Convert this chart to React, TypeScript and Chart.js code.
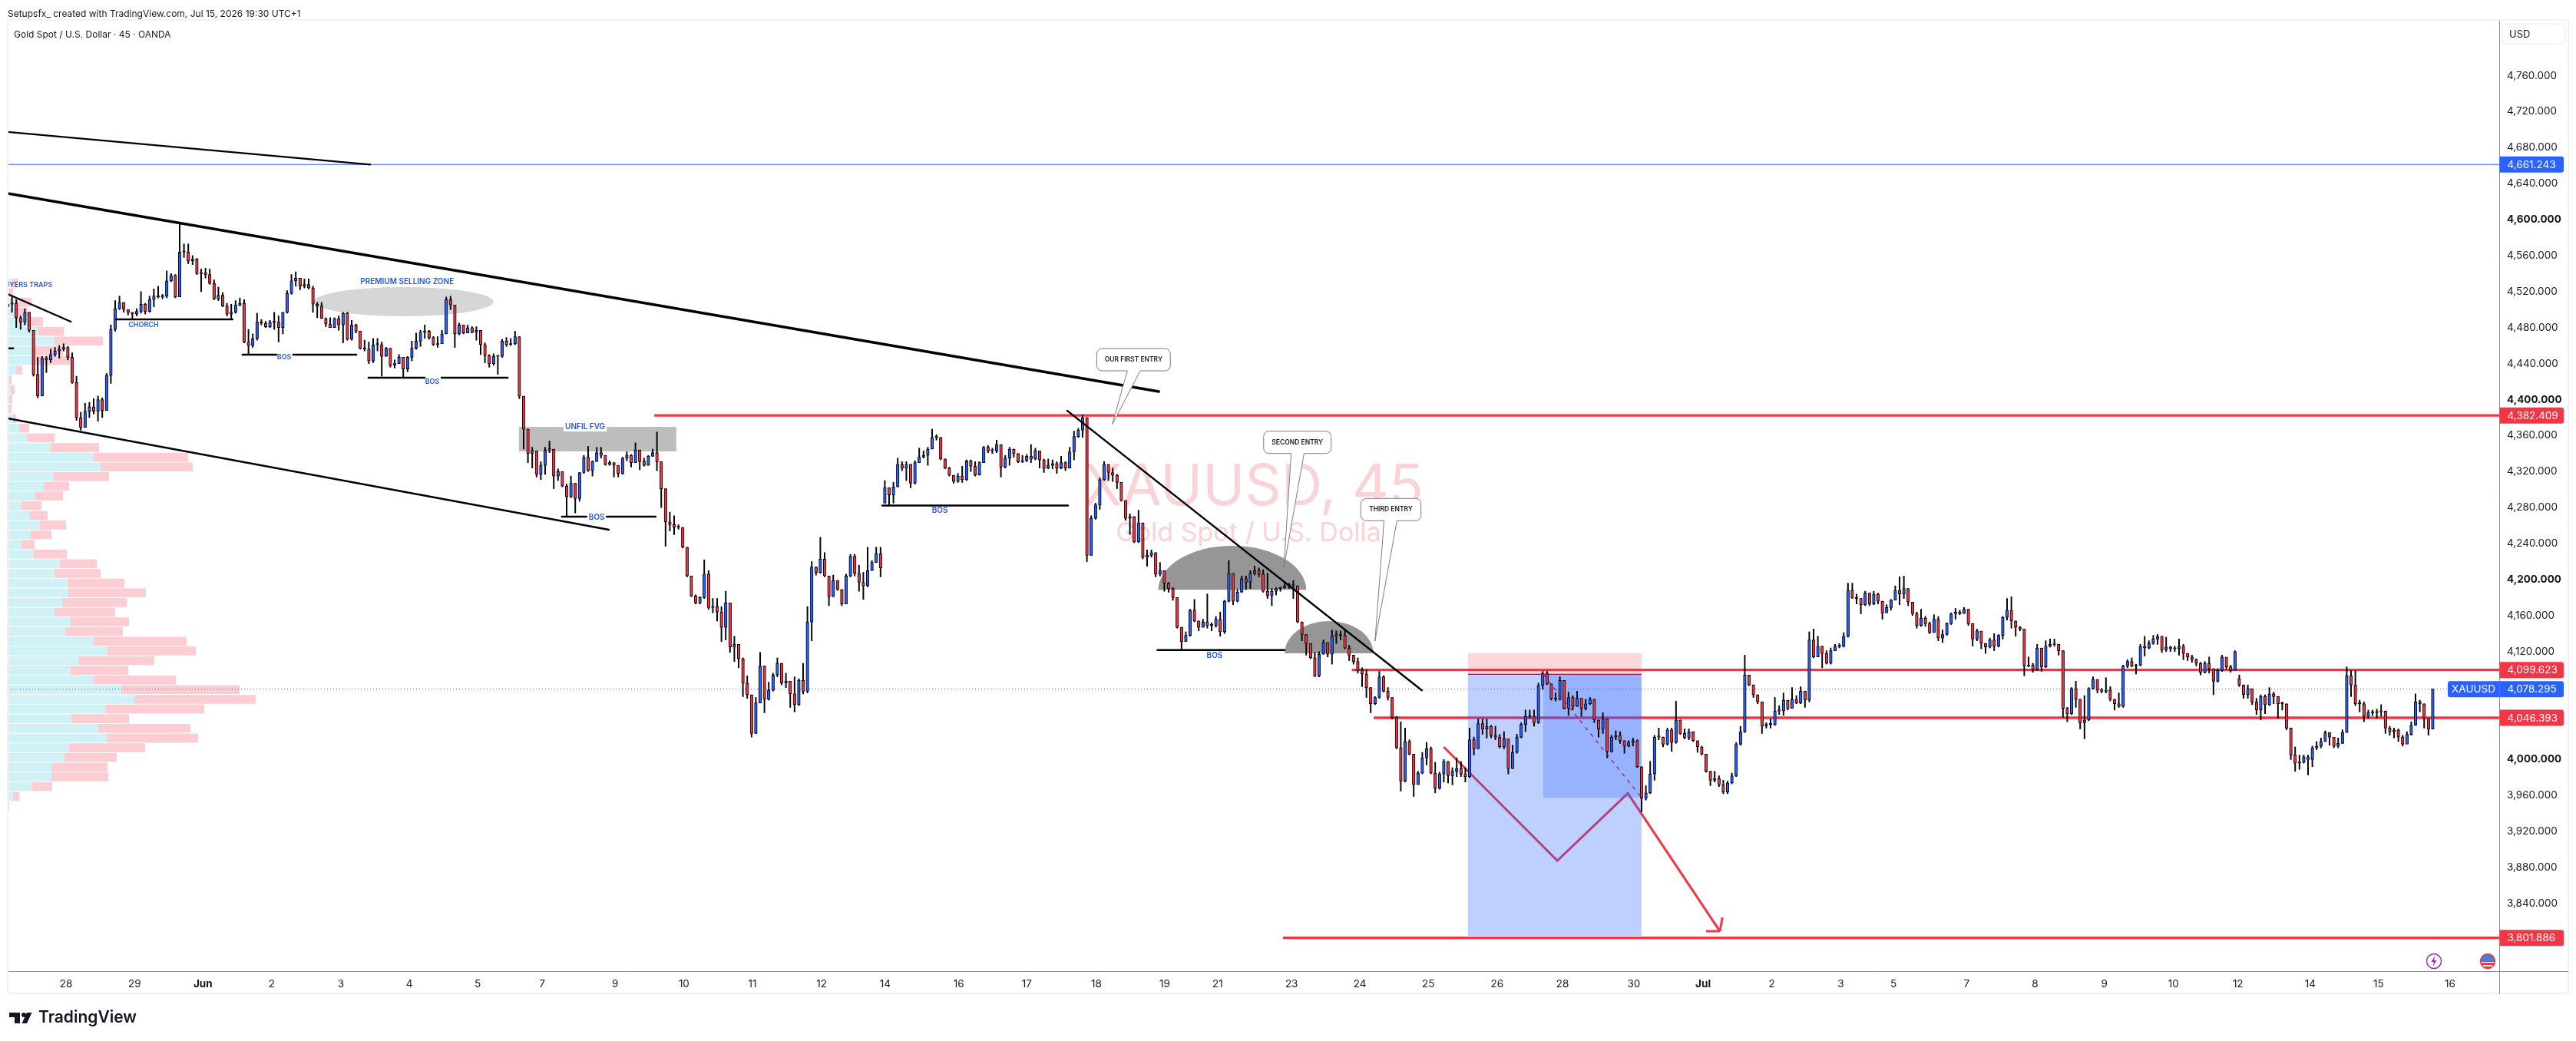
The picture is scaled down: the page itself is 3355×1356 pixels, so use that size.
// App.tsx - XAUUSD 45m chart with trade drawings
import React, { useEffect, useRef } from 'react';
import { Chart, registerables } from 'chart.js';

Chart.register(...registerables);

const FONT = 'Inter, "Noto Sans", sans-serif';
const RED = '#f23645';
const BLUE = '#2962ff';
const LABEL_BLUE = '#2259dc';

// one candle = two 45m bars
const closes = [
  4506,4507,4491,4486,4497,4477,4428,4404,4446,4444,4450,4454,4456,4458,4447,4419,4380,4369,4387,4392,
  4387,4400,4388,4427,4478,4501,4508,4500,4497,4495,4498,4506,4498,4511,4515,4514,4515,4532,4538,4514,
  4564,4564,4554,4556,4540,4541,4539,4529,4512,4516,4504,4495,4497,4505,4507,4464,4460,4468,4486,4485,
  4481,4486,4486,4480,4497,4518,4532,4535,4526,4528,4524,4506,4504,4490,4484,4480,4490,4483,4496,4467,
  4483,4476,4457,4456,4443,4461,4461,4448,4457,4438,4440,4447,4434,4447,4457,4465,4475,4476,4469,4461,
  4462,4473,4511,4505,4473,4483,4474,4480,4475,4477,4461,4449,4440,4448,4448,4465,4461,4462,4470,4404,
  4367,4340,4343,4317,4327,4344,4345,4315,4320,4304,4292,4307,4290,4319,4336,4321,4331,4341,4338,4328,
  4330,4327,4318,4335,4338,4330,4344,4331,4327,4337,4341,4331,4301,4264,4261,4258,4258,4236,4204,4182,
  4174,4180,4206,4169,4170,4164,4147,4174,4125,4128,4112,4085,4072,4029,4063,4104,4067,4077,4094,4107,
  4085,4087,4073,4061,4088,4076,4153,4214,4208,4223,4204,4181,4199,4189,4173,4204,4226,4207,4197,4193,
  4210,4219,4229,4213,4302,4294,4303,4328,4324,4328,4307,4330,4336,4338,4345,4358,4358,4334,4324,4316,
  4309,4315,4311,4332,4326,4316,4330,4347,4343,4343,4350,4325,4335,4345,4340,4331,4332,4337,4334,4343,
  4333,4324,4327,4329,4324,4330,4324,4342,4359,4366,4380,4227,4268,4283,4311,4328,4319,4316,4308,4288,
  4268,4270,4242,4263,4225,4227,4230,4206,4210,4196,4190,4180,4147,4131,4138,4166,4154,4147,4153,4149,
  4149,4156,4142,4176,4207,4176,4186,4201,4197,4207,4210,4206,4187,4182,4187,4190,4191,4193,4193,4193,
  4153,4139,4129,4113,4093,4117,4130,4117,4137,4139,4138,4124,4116,4109,4099,4095,4080,4062,4069,4092,
  4076,4069,4047,4013,3976,4020,4006,3972,3985,4002,4012,3985,3968,3984,3998,3982,3987,3990,3984,3981,
  4022,4012,4040,4034,4037,4027,4025,4014,4023,3990,4008,4025,4039,4048,4048,4041,4082,4096,4084,4068,
  4067,4088,4057,4069,4059,4068,4057,4062,4067,4044,4034,4045,4009,4025,4027,4021,4015,4019,4021,3992,
  3957,3963,3984,4025,4025,4017,4033,4019,4044,4029,4024,4031,4021,4014,4006,3987,3977,3979,3972,3964,
  3974,3982,4017,4031,4094,4083,4072,4064,4037,4039,4039,4054,4054,4066,4057,4067,4063,4076,4066,4133,
  4114,4126,4118,4107,4121,4126,4126,4137,4188,4180,4179,4172,4185,4173,4184,4176,4163,4169,4177,4188,
  4184,4190,4175,4162,4149,4157,4151,4141,4156,4135,4139,4151,4162,4164,4162,4167,4151,4134,4143,4129,
  4125,4133,4126,4138,4158,4166,4154,4147,4145,4104,4105,4100,4124,4103,4126,4128,4128,4121,4057,4051,
  4079,4067,4041,4044,4079,4089,4077,4076,4077,4067,4062,4059,4104,4109,4104,4105,4126,4124,4129,4134,
  4137,4122,4125,4123,4123,4126,4118,4114,4111,4107,4097,4107,4101,4087,4099,4114,4103,4099,4120,4083,
  4072,4079,4064,4055,4070,4061,4073,4070,4062,4062,4035,4005,3996,3997,4003,4000,4013,4015,4020,4030,
  4025,4015,4018,4030,4093,4083,4062,4062,4048,4052,4052,4053,4054,4035,4031,4033,4025,4017,4028,4038,
  4064,4062,4046,4034,4078.295,
];
const highs = [
  4511,4515,4511,4493,4501,4497,4466,4447,4448,4448,4456,4458,4460,4462,4459,4452,4426,4386,4396,4397,
  4401,4404,4402,4429,4483,4510,4515,4503,4500,4497,4501,4520,4507,4515,4523,4526,4517,4543,4540,4539,
  4595,4573,4573,4560,4557,4545,4546,4545,4533,4525,4519,4507,4506,4510,4513,4511,4478,4473,4496,4489,
  4487,4488,4497,4493,4497,4521,4539,4542,4535,4534,4534,4526,4508,4508,4491,4491,4491,4493,4497,4497,
  4488,4484,4473,4466,4464,4468,4468,4464,4458,4457,4444,4450,4447,4448,4465,4474,4477,4483,4477,4470,
  4470,4477,4514,4515,4505,4485,4480,4483,4481,4481,4471,4463,4450,4451,4449,4467,4469,4468,4476,4470,
  4372,4367,4347,4343,4331,4347,4354,4345,4323,4320,4306,4315,4307,4319,4338,4348,4332,4347,4347,4338,
  4332,4330,4327,4336,4342,4339,4352,4344,4335,4338,4345,4364,4331,4301,4275,4271,4261,4258,4236,4204,
  4183,4181,4222,4210,4179,4179,4170,4187,4174,4137,4128,4113,4093,4072,4069,4119,4104,4086,4096,4113,
  4107,4096,4087,4092,4090,4107,4170,4220,4214,4247,4230,4204,4205,4199,4189,4206,4228,4228,4216,4208,
  4236,4221,4236,4236,4310,4302,4308,4335,4331,4331,4328,4332,4346,4343,4347,4367,4361,4358,4334,4325,
  4316,4318,4326,4333,4333,4331,4331,4348,4349,4346,4355,4350,4338,4347,4345,4340,4338,4339,4350,4346,
  4343,4334,4334,4333,4331,4337,4331,4347,4365,4368,4383,4380,4271,4285,4313,4331,4328,4324,4317,4308,
  4288,4273,4270,4277,4263,4233,4233,4230,4219,4209,4197,4191,4180,4147,4142,4167,4178,4154,4156,4184,
  4152,4159,4164,4177,4221,4207,4189,4204,4204,4210,4215,4213,4211,4207,4190,4191,4192,4196,4196,4199,
  4193,4153,4139,4129,4119,4120,4133,4130,4144,4143,4143,4144,4127,4116,4113,4102,4100,4080,4070,4098,
  4093,4080,4069,4048,4042,4035,4022,4006,3987,4008,4019,4014,3997,3986,4000,3998,3991,4002,3998,3991,
  4035,4025,4045,4045,4045,4038,4037,4028,4031,4016,4016,4028,4041,4055,4055,4055,4085,4098,4098,4084,
  4074,4092,4088,4075,4071,4076,4068,4067,4069,4067,4044,4052,4045,4027,4032,4031,4021,4021,4024,4022,
  3992,3971,3998,4027,4035,4025,4035,4035,4065,4044,4034,4034,4031,4021,4015,4006,3987,3987,3982,3977,
  3976,3985,4019,4037,4116,4094,4083,4072,4059,4041,4045,4069,4060,4074,4066,4080,4071,4081,4074,4142,
  4145,4137,4126,4121,4124,4128,4129,4141,4196,4196,4184,4179,4187,4185,4187,4185,4176,4172,4178,4193,
  4203,4204,4190,4175,4164,4167,4159,4153,4161,4159,4144,4152,4163,4168,4166,4169,4167,4151,4145,4138,
  4129,4135,4140,4139,4159,4179,4181,4154,4148,4145,4114,4107,4128,4124,4132,4134,4134,4128,4121,4058,
  4080,4087,4067,4071,4080,4092,4089,4079,4091,4081,4067,4074,4105,4111,4113,4106,4128,4137,4132,4138,
  4139,4137,4136,4126,4126,4134,4128,4118,4116,4112,4108,4109,4114,4101,4101,4116,4107,4105,4121,4094,
  4083,4083,4077,4068,4072,4072,4080,4075,4070,4064,4062,4035,4014,4005,4005,4005,4015,4020,4024,4032,
  4030,4024,4024,4033,4103,4099,4099,4066,4064,4055,4055,4056,4061,4054,4037,4035,4034,4027,4031,4042,
  4073,4066,4062,4046,4078.295,
];
const lows = [
  4498,4497,4480,4478,4483,4475,4426,4402,4404,4430,4441,4448,4446,4454,4444,4418,4377,4366,4374,4380,
  4384,4376,4380,4402,4418,4476,4500,4497,4494,4490,4493,4496,4495,4497,4503,4513,4512,4513,4531,4513,
  4527,4558,4551,4550,4539,4520,4535,4528,4511,4510,4503,4493,4490,4496,4504,4463,4450,4458,4466,4483,
  4480,4480,4478,4464,4473,4496,4517,4526,4522,4524,4523,4497,4491,4490,4481,4480,4480,4477,4463,4466,
  4466,4474,4456,4454,4440,4441,4454,4426,4448,4436,4435,4440,4424,4431,4443,4456,4459,4468,4467,4460,
  4458,4467,4473,4500,4458,4472,4473,4474,4474,4466,4450,4441,4436,4438,4428,4447,4459,4460,4461,4401,
  4345,4330,4324,4314,4311,4317,4341,4301,4310,4303,4271,4291,4274,4287,4318,4320,4315,4335,4335,4327,
  4327,4314,4314,4317,4332,4325,4330,4322,4326,4327,4337,4321,4280,4237,4254,4250,4256,4235,4203,4181,
  4173,4173,4179,4167,4163,4154,4131,4133,4119,4109,4102,4070,4068,4025,4029,4063,4052,4066,4076,4092,
  4083,4080,4058,4053,4060,4073,4074,4132,4205,4207,4203,4171,4181,4188,4171,4173,4203,4204,4187,4178,
  4192,4210,4219,4203,4285,4282,4285,4303,4321,4310,4302,4306,4330,4335,4327,4345,4355,4333,4323,4315,
  4307,4308,4308,4310,4320,4315,4316,4330,4341,4340,4341,4314,4324,4327,4336,4330,4330,4331,4330,4333,
  4324,4319,4323,4323,4318,4323,4321,4324,4333,4358,4358,4220,4227,4267,4278,4310,4310,4309,4301,4287,
  4266,4250,4241,4241,4223,4215,4225,4203,4204,4187,4186,4177,4146,4122,4136,4137,4153,4143,4147,4146,
  4143,4147,4137,4140,4175,4172,4175,4186,4189,4190,4205,4203,4186,4179,4171,4183,4187,4190,4190,4179,
  4152,4132,4116,4112,4092,4092,4117,4114,4106,4129,4133,4123,4110,4106,4096,4081,4069,4052,4061,4068,
  4075,4066,4045,4012,3965,3975,4005,3959,3975,3984,3994,3984,3963,3967,3975,3974,3972,3981,3981,3975,
  3980,4005,4012,4028,4024,4024,4022,4013,4012,3984,3990,4007,4024,4031,4046,4037,4040,4078,4083,4066,
  4065,4066,4056,4049,4055,4059,4048,4055,4061,4041,4025,4029,4002,4008,4022,4018,4007,4014,4015,3991,
  3942,3955,3962,3977,4022,4014,4016,4009,4018,4028,4023,4022,4020,4008,4005,3986,3971,3975,3970,3962,
  3962,3973,3981,4016,4030,4082,4069,4062,4029,4035,4035,4038,4050,4049,4055,4064,4062,4062,4058,4064,
  4113,4115,4102,4106,4106,4121,4124,4125,4136,4179,4173,4162,4171,4171,4172,4173,4156,4164,4166,4179,
  4172,4179,4171,4160,4146,4148,4148,4140,4149,4132,4130,4138,4150,4156,4161,4165,4149,4126,4132,4123,
  4118,4124,4121,4125,4134,4155,4146,4137,4143,4093,4103,4097,4099,4098,4102,4125,4126,4116,4047,4042,
  4050,4058,4034,4023,4043,4078,4074,4074,4074,4065,4055,4058,4058,4102,4103,4095,4104,4115,4123,4128,
  4128,4119,4120,4120,4120,4116,4111,4110,4108,4104,4094,4096,4096,4072,4086,4098,4101,4097,4101,4081,
  4068,4068,4061,4050,4044,4051,4060,4062,4046,4055,4033,4000,3987,3989,3996,3983,3992,4011,4013,4020,
  4016,4013,4013,4018,4030,4070,4060,4053,4042,4046,4049,4046,4048,4029,4027,4024,4020,4015,4025,4027,
  4038,4053,4035,4027,4034,
];
// candles that open away from the previous close (weekend gaps)
const gapOpens: Record<number, number> = { 0: 4503, 204: 4285, 519: 4090 };

// price axis
const priceTicks = [3840,3880,3920,3960,4000,4120,4160,4200,4240,4280,4320,4360,4400,4440,4480,4520,4560,4600,4640,4680,4720,4760];
const boldPrices = [4000, 4200, 4400, 4600];
// time axis, position in candles
const timeTicks = [13.6,29.5,45.4,61.4,77.5,93.4,109.3,124.3,141.3,157.3,173.2,189.3,204.1,221.2,237,253.2,269.1,281.4,298.6,314.5,330.4,346.4,361.6,378.2,394.3,410.3,426.3,438.6,455.6,471.5,487.6,503.7,518.7,535.5,551.4,568];
const timeLabels = ['28','29','Jun','2','3','4','5','7','9','10','11','12','14','16','17','18','19','21','23','24','25','26','28','30','Jul','2','3','5','7','8','9','10','12','14','15','16'];

// volume profile, top row to bottom row
const profileUp = [6,2,12,12,29,40,61,35,33,11,2,4,2,1,7,15,26,56,112,121,60,47,36,18,29,42,30,18,34,68,61,78,79,71,61,82,75,112,130,93,82,112,148,165,128,83,118,129,80,74,57,57,32,7,0.5];
const profileDown = [7,5,19,14,17,33,63,37,48,8,3,5,4,4,4,13,35,63,123,120,72,33,36,26,23,34,27,17,43,48,60,74,101,84,79,76,75,121,115,98,75,107,154,158,128,75,120,119,99,68,73,74,26,8,1.5];
const profileTop = 4529.6;
const profileStep = 10.76;

// drawings: [candle, price, candle, price]
const thinLines = [
  [0,4697.4,84.3,4661.2],[0,4517.3,14.7,4486.6],[0,4379.1,139.8,4255.4],[0.2,4457,1.3,4457],
  [25.2,4489.2,52.3,4489.2],[54.6,4449.9,62.5,4449.9],[66.4,4449.9,81.1,4449.9],
  [83.9,4424.3,97,4424.3],[100.9,4424.3,116.3,4424.3],[128.9,4269.9,134.6,4269.9],[139.3,4269.9,150.7,4269.9],
  [203.4,4282.3,246.6,4282.3],[267.4,4121.7,297,4121.7],[246.4,4387.7,328.9,4076.9],
];
const channelTop = [0,4629.1,267.7,4409];
const levelPrices = [4382.409, 4099.623, 4046.393, 3801.886];
const levelStarts = [150.4, 312.6, 317.7, 296.6];
const blueLevel = 4661.243;
const lastPrice = 4078.295;
const arrowPath = [[334,4014],[360.4,3887.7],[376.8,3962.5],[398.2,3809.3]];
const arrowBarbs = [[395,3809.3],[398.8,3824.6]];
const texts: [string, number, number, number][] = [
  ['BUYERS TRAPS',10.4,4527.6,9],['CHORCH',31.6,4483.2,9],['BOS',64.3,4447.4,9],['BOS',98.75,4420.1,9],
  ['PREMIUM SELLING ZONE',92.9,4531,10],['UNFIL FVG',134.3,4369.7,10],['BOS',137,4269.1,10],
  ['BOS',216.8,4276.7,10],['BOS',280.7,4115.5,10],
];
// label, left, right, top price, bottom price, tip candle, tip price, base left, base right
const callouts: [string, number, number, number, number, number, number, number, number][] = [
  ['OUR FIRST ENTRY',253.3,270.4,4456.7,4432,256.9,4372.5,260.4,263.4],
  ['SECOND ENTRY',292.1,307.8,4364.9,4340.1,296.8,4213.6,298.5,301.5],
  ['THIRD ENTRY',314.7,328.7,4290.1,4265.4,318,4131.7,320.1,323.1],
];
// center candle, center price, radius in candles, radius in price
const domes = [[284.8,4188.6,17.2,48.9],[307.3,4118.1,10.3,35.8]];
const premiumZone = [92.1,4508.8,20.9,16.2];
const fvgBox = [118.9,155.5,4369.7,4342.4];
const position = { left: 339.6, right: 380, split: 357.1, stop: 4118.1, entry: 4094.8, target: 3804.1, reached: 3957.7 };
const axisPills: [string, number, string][] = [
  ['4,661.243', blueLevel, BLUE], ['4,382.409', 4382.409, RED], ['4,099.623', 4099.623, RED],
  ['4,078.295', lastPrice, BLUE], ['4,046.393', 4046.393, RED], ['3,801.886', 3801.886, RED],
];

const drawings = {
  id: 'drawings',
  beforeDatasetsDraw(chart: any) {
    const { ctx, chartArea: a, scales } = chart;
    const px = (v: number) => scales.x.getPixelForValue(v);
    const py = (v: number) => scales.y.getPixelForValue(v);
    ctx.save();
    ctx.beginPath();
    ctx.rect(a.left, a.top, a.right - a.left, a.bottom - a.top);
    ctx.clip();

    // watermark
    ctx.fillStyle = '#fbd3d7';
    ctx.textAlign = 'center';
    ctx.textBaseline = 'middle';
    ctx.font = `74px ${FONT}`;
    ctx.fillText('XAUUSD, 45', (a.left + a.right) / 2, 636);
    ctx.font = `34px ${FONT}`;
    ctx.fillText('Gold Spot / U.S. Dollar', (a.left + a.right) / 2, 695);

    // volume profile
    const rowH = Math.abs(py(0) - py(profileStep)) - 1;
    profileUp.forEach((up, i) => {
      const yc = py(profileTop - i * profileStep);
      const x1 = px(up / 5.6);
      const x2 = px((up + profileDown[i]) / 5.6);
      ctx.fillStyle = '#d0f2f7';
      ctx.fillRect(a.left, yc - rowH / 2, x1 - a.left, rowH);
      ctx.fillStyle = '#fccdd2';
      ctx.fillRect(x1, yc - rowH / 2, x2 - x1, rowH);
    });

    // zones
    ctx.fillStyle = '#d6d6d6';
    ctx.beginPath();
    ctx.ellipse(px(premiumZone[0]), py(premiumZone[1]), px(premiumZone[2]) - px(0), py(0) - py(premiumZone[3]), 0, 0, Math.PI * 2);
    ctx.fill();
    ctx.fillStyle = '#bdbdbd';
    ctx.fillRect(px(fvgBox[0]), py(fvgBox[2]), px(fvgBox[1]) - px(fvgBox[0]), py(fvgBox[3]) - py(fvgBox[2]));
    ctx.fillStyle = '#969696';
    domes.forEach(([cx, cy, rx, ry]) => {
      ctx.beginPath();
      ctx.ellipse(px(cx), py(cy), px(rx) - px(0), py(0) - py(ry), 0, Math.PI, Math.PI * 2);
      ctx.closePath();
      ctx.fill();
    });

    // price levels
    ctx.strokeStyle = BLUE;
    ctx.lineWidth = 1.2;
    ctx.beginPath();
    ctx.moveTo(a.left, py(blueLevel));
    ctx.lineTo(a.right, py(blueLevel));
    ctx.stroke();
    ctx.lineWidth = 1;
    ctx.setLineDash([1, 3]);
    ctx.beginPath();
    ctx.moveTo(a.left, py(lastPrice));
    ctx.lineTo(a.right, py(lastPrice));
    ctx.stroke();
    ctx.setLineDash([]);
    ctx.strokeStyle = RED;
    ctx.lineWidth = 3.4;
    levelPrices.forEach((p, i) => {
      ctx.beginPath();
      ctx.moveTo(px(levelStarts[i]), py(p));
      ctx.lineTo(a.right, py(p));
      ctx.stroke();
    });
    ctx.lineWidth = 3;
    ctx.beginPath();
    arrowPath.forEach(([b, p], i) => (i ? ctx.lineTo(px(b), py(p)) : ctx.moveTo(px(b), py(p))));
    ctx.stroke();
    const tip = arrowPath[arrowPath.length - 1];
    arrowBarbs.forEach(([b, p]) => {
      ctx.beginPath();
      ctx.moveTo(px(tip[0]), py(tip[1]));
      ctx.lineTo(px(b), py(p));
      ctx.stroke();
    });

    // short position tool
    const { left, right, split, stop, entry, target, reached } = position;
    ctx.fillStyle = 'rgba(242, 54, 69, 0.2)';
    ctx.fillRect(px(left), py(stop), px(right) - px(left), py(entry) - py(stop));
    ctx.fillStyle = 'rgba(41, 98, 255, 0.3)';
    ctx.fillRect(px(left), py(entry), px(right) - px(left), py(target) - py(entry));
    ctx.fillStyle = 'rgba(41, 98, 255, 0.26)';
    ctx.fillRect(px(split), py(entry), px(right) - px(split), py(reached) - py(entry));
    ctx.restore();
  },
  afterDatasetsDraw(chart: any) {
    const { ctx, chartArea: a, scales } = chart;
    const px = (v: number) => scales.x.getPixelForValue(v);
    const py = (v: number) => scales.y.getPixelForValue(v);
    ctx.save();
    ctx.beginPath();
    ctx.rect(a.left, a.top, a.right - a.left, a.bottom - a.top);
    ctx.clip();

    const { left, right, split, entry, reached } = position;
    ctx.strokeStyle = '#8c1a55';
    ctx.lineWidth = 1.2;
    ctx.beginPath();
    ctx.moveTo(px(left), py(entry));
    ctx.lineTo(px(right), py(entry));
    ctx.stroke();
    ctx.setLineDash([5, 6]);
    ctx.beginPath();
    ctx.moveTo(px(split), py(entry));
    ctx.lineTo(px(right), py(reached));
    ctx.stroke();
    ctx.setLineDash([]);

    // black trend lines
    ctx.strokeStyle = '#000';
    ctx.lineCap = 'round';
    ctx.lineWidth = 2.4;
    thinLines.forEach(([b1, p1, b2, p2]) => {
      ctx.beginPath();
      ctx.moveTo(px(b1), py(p1));
      ctx.lineTo(px(b2), py(p2));
      ctx.stroke();
    });
    ctx.lineWidth = 3.6;
    ctx.beginPath();
    ctx.moveTo(px(channelTop[0]), py(channelTop[1]));
    ctx.lineTo(px(channelTop[2]), py(channelTop[3]));
    ctx.stroke();

    // callouts
    callouts.forEach(([label, l, r, t, b, tx, ty, b1, b2]) => {
      const x1 = px(l), x2 = px(r), y1 = py(t), y2 = py(b), rad = 7;
      ctx.beginPath();
      ctx.moveTo(x1 + rad, y1);
      ctx.arcTo(x2, y1, x2, y2, rad);
      ctx.arcTo(x2, y2, x1, y2, rad);
      ctx.lineTo(px(b2), y2);
      ctx.lineTo(px(tx), py(ty));
      ctx.lineTo(px(b1), y2);
      ctx.arcTo(x1, y2, x1, y1, rad);
      ctx.arcTo(x1, y1, x2, y1, rad);
      ctx.closePath();
      ctx.fillStyle = '#fff';
      ctx.fill();
      ctx.strokeStyle = '#7d7d7d';
      ctx.lineWidth = 1;
      ctx.lineCap = 'butt';
      ctx.stroke();
      ctx.fillStyle = '#1a1a1a';
      ctx.font = `600 8.5px ${FONT}`;
      ctx.textAlign = 'center';
      ctx.textBaseline = 'middle';
      ctx.fillText(label, (x1 + x2) / 2, (y1 + y2) / 2);
    });

    // blue labels
    ctx.textBaseline = 'middle';
    texts.forEach(([label, b, p, size]) => {
      ctx.font = `600 ${size}px ${FONT}`;
      const w = ctx.measureText(label).width;
      const right = label === 'BUYERS TRAPS';
      const xc = right ? px(b) - w / 2 : px(b);
      if (label === 'UNFIL FVG') {
        ctx.fillStyle = '#fff';
        ctx.fillRect(xc - w / 2 - 2, py(p) - 6, w + 4, 12);
      }
      ctx.fillStyle = LABEL_BLUE;
      ctx.textAlign = 'center';
      ctx.fillText(label, xc, py(p));
    });
    ctx.restore();
  },
  afterDraw(chart: any) {
    const { ctx, chartArea: a, scales } = chart;
    const py = (v: number) => scales.y.getPixelForValue(v);
    ctx.save();

    // outer frame and axis stubs
    ctx.strokeStyle = '#f3f3f3';
    ctx.lineWidth = 2;
    ctx.strokeRect(a.left, a.top - 1, 3345 - a.left, 1295 - a.top);
    ctx.strokeStyle = '#8f8f8f';
    ctx.lineWidth = 1;
    ctx.beginPath();
    ctx.moveTo(a.right + 0.5, a.bottom);
    ctx.lineTo(a.right + 0.5, 1295);
    ctx.moveTo(a.right, a.bottom + 0.5);
    ctx.lineTo(3345, a.bottom + 0.5);
    ctx.stroke();

    // USD box
    ctx.strokeStyle = '#f2f2f2';
    ctx.lineWidth = 1.5;
    ctx.beginPath();
    ctx.roundRect(3259, 31, 82, 26, 6);
    ctx.stroke();
    ctx.fillStyle = '#131722';
    ctx.font = `13px ${FONT}`;
    ctx.textAlign = 'left';
    ctx.textBaseline = 'middle';
    ctx.fillText('USD', 3268, 45);

    // price pills
    axisPills.forEach(([label, p, color]) => {
      const y = py(p);
      ctx.fillStyle = color;
      ctx.beginPath();
      ctx.roundRect(a.right + 0.5, y - 10.5, 83.5, 21, [0, 3, 3, 0]);
      ctx.fill();
      ctx.fillStyle = '#fff';
      ctx.font = `13.5px ${FONT}`;
      ctx.fillText(label, 3265.5, y + 0.5);
    });
    const yLast = py(lastPrice);
    ctx.fillStyle = BLUE;
    ctx.beginPath();
    ctx.roundRect(3188, yLast - 10.5, 67, 21, [3, 0, 0, 3]);
    ctx.fill();
    ctx.fillStyle = '#fff';
    ctx.font = `13.5px ${FONT}`;
    ctx.textAlign = 'center';
    ctx.fillText('XAUUSD', 3221.5, yLast + 0.5);

    // event icons
    ctx.strokeStyle = '#9c27b0';
    ctx.lineWidth = 1.5;
    ctx.beginPath();
    ctx.arc(3170, 1252, 9.5, 0, Math.PI * 2);
    ctx.stroke();
    ctx.fillStyle = '#9c27b0';
    ctx.beginPath();
    ctx.moveTo(3171.5, 1245);
    ctx.lineTo(3166.5, 1253);
    ctx.lineTo(3170, 1253);
    ctx.lineTo(3168.5, 1259);
    ctx.lineTo(3173.5, 1251);
    ctx.lineTo(3170, 1251);
    ctx.closePath();
    ctx.fill();
    ctx.save();
    ctx.beginPath();
    ctx.arc(3240, 1252, 9.5, 0, Math.PI * 2);
    ctx.clip();
    ctx.fillStyle = '#fff';
    ctx.fillRect(3230, 1242, 20, 20);
    ctx.fillStyle = RED;
    ctx.fillRect(3230, 1254, 20, 3);
    ctx.fillRect(3230, 1259, 20, 3);
    ctx.fillStyle = '#3f7fd6';
    ctx.fillRect(3230, 1242, 20, 11);
    ctx.restore();
    ctx.strokeStyle = RED;
    ctx.lineWidth = 1.5;
    ctx.beginPath();
    ctx.arc(3240, 1252, 9.5, 0, Math.PI * 2);
    ctx.stroke();

    // header
    ctx.fillStyle = '#131722';
    ctx.textAlign = 'left';
    ctx.font = `12px ${FONT}`;
    ctx.fillText('Setupsfx_ created with TradingView.com, Jul 15, 2026 19:30 UTC+1', 10, 18);
    ctx.fillText('Gold Spot / U.S. Dollar \u00b7 45 \u00b7 OANDA', 18, 45);

    // logo
    ctx.fillStyle = '#131722';
    ctx.fillRect(12, 1319, 14, 6);
    ctx.fillRect(19, 1325, 7, 8);
    ctx.beginPath();
    ctx.arc(31, 1322, 3, 0, Math.PI * 2);
    ctx.fill();
    ctx.beginPath();
    ctx.moveTo(35, 1319);
    ctx.lineTo(41.5, 1319);
    ctx.lineTo(35, 1333);
    ctx.lineTo(28.5, 1333);
    ctx.closePath();
    ctx.fill();
    ctx.font = `600 21px ${FONT}`;
    ctx.fillText('TradingView', 50, 1326);
    ctx.restore();
  },
};

export default function App() {
  const canvasRef = useRef<HTMLCanvasElement>(null);

  useEffect(() => {
    if (!canvasRef.current) return;
    document.body.style.margin = '0';

    const opens = closes.map((c, i) => gapOpens[i] ?? (i ? closes[i - 1] : c));

    const chart = new Chart(canvasRef.current, {
      type: 'bar',
      data: {
        datasets: [
          {
            label: 'wicks',
            data: closes.map((_, i) => ({ x: i, y: [lows[i], highs[i]] })) as any,
            backgroundColor: '#000',
            barThickness: 1.3,
            grouped: false,
            order: 2,
          },
          {
            label: 'bodies',
            data: closes.map((c, i) => ({ x: i, y: [opens[i], c] })) as any,
            backgroundColor: closes.map((c, i) => (c >= opens[i] ? BLUE : RED)),
            borderColor: '#000',
            borderWidth: 1,
            borderSkipped: false,
            barThickness: 3.6,
            minBarLength: 1.5,
            grouped: false,
            order: 1,
          },
        ],
      },
      options: {
        responsive: false,
        devicePixelRatio: 1,
        animation: false,
        layout: { padding: { left: 10, top: 27, right: 10, bottom: 60 } },
        plugins: { legend: { display: false }, tooltip: { enabled: false } },
        scales: {
          x: {
            type: 'linear',
            min: 0,
            max: 579.46,
            offset: false,
            grid: { display: false, drawTicks: false },
            border: { color: '#8f8f8f' },
            afterBuildTicks: (scale: any) => {
              scale.ticks = timeTicks.map((value) => ({ value }));
            },
            afterFit: (scale: any) => {
              scale.height = 31;
            },
            ticks: {
              autoSkip: false,
              maxRotation: 0,
              padding: 9,
              color: '#131722',
              callback: (_value: any, index: number) => timeLabels[index],
              font: (ctx: any) => ({
                family: FONT,
                size: 13.5,
                weight: timeLabels[ctx.index] === 'Jun' || timeLabels[ctx.index] === 'Jul' ? 'bold' : 'normal',
              }),
            },
          },
          y: {
            position: 'right',
            min: 3764.9,
            max: 4821,
            grid: { display: false, drawTicks: false },
            border: { color: '#8f8f8f' },
            afterBuildTicks: (scale: any) => {
              scale.ticks = priceTicks.map((value) => ({ value }));
            },
            afterFit: (scale: any) => {
              scale.width = 90;
            },
            ticks: {
              autoSkip: false,
              padding: 10,
              color: '#131722',
              callback: (value: any) =>
                Number(value).toLocaleString('en-US', { minimumFractionDigits: 3, maximumFractionDigits: 3 }),
              font: (ctx: any) => ({
                family: FONT,
                size: 13.5,
                weight: boldPrices.includes(ctx.tick?.value) ? 'bold' : 'normal',
              }),
            },
          },
        },
      },
      plugins: [drawings],
    });

    return () => chart.destroy();
  }, []);

  return <canvas ref={canvasRef} width={3355} height={1356} style={{ display: 'block', width: 3355, height: 1356 }} />;
}
